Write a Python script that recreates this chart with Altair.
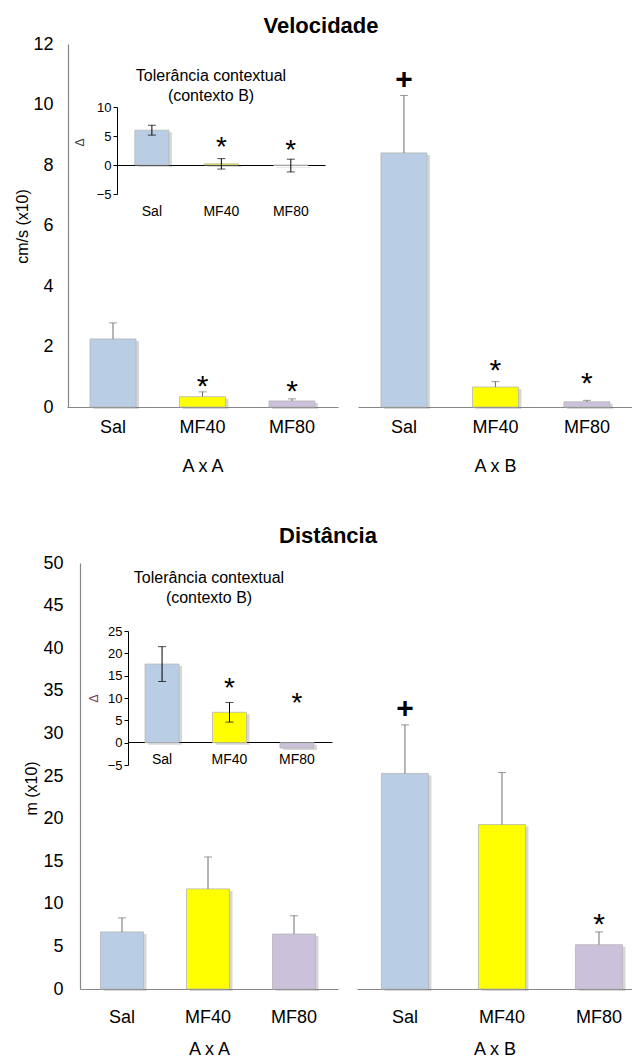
import altair as alt
import pandas as pd

FONT = "Liberation Sans"

categories = ["Sal", "MF40", "MF80"]
bar_colors = ["#b9cde5", "#ffff00", "#ccc1da"]

chart_titles = ["Velocidade", "Distância"]
group_labels = ["A x A", "A x B"]
inset_title = ["Tolerância contextual", "(contexto B)"]
vel_y_title = "cm/s (x10)"
dist_y_title = "m (x10)"
delta_title = "Δ"

vel_ticks = [0, 2, 4, 6, 8, 10, 12]
vel_delta_ticks = [-5, 0, 5, 10]
dist_ticks = [0, 5, 10, 15, 20, 25, 30, 35, 40, 45, 50]
dist_delta_ticks = [-5, 0, 5, 10, 15, 20, 25]

# Velocidade (cm/s x10), mean and SEM
vel_AA_mean = [2.25, 0.34, 0.20]
vel_AA_sem = [0.53, 0.16, 0.07]
vel_AA_sig = ["", "*", "*"]
vel_AA_sig_at = [0.0, 0.86, 0.69]

vel_AB_mean = [8.40, 0.66, 0.17]
vel_AB_sem = [1.90, 0.18, 0.05]
vel_AB_sig = ["+", "*", "*"]
vel_AB_sig_at = [10.81, 1.39, 0.96]

vel_delta_mean = [6.0, 0.2, -0.1]
vel_delta_sem = [0.85, 0.9, 1.1]
vel_delta_sig = ["", "*", "*"]
vel_delta_sig_at = [0.0, 3.97, 3.45]

# Distancia (m x10), mean and SEM
dist_AA_mean = [6.7, 11.75, 6.45]
dist_AA_sem = [1.65, 3.75, 2.15]
dist_AA_sig = ["", "", ""]
dist_AA_sig_at = [0.0, 0.0, 0.0]

dist_AB_mean = [25.3, 19.3, 5.2]
dist_AB_sem = [5.7, 6.1, 1.5]
dist_AB_sig = ["+", "", "*"]
dist_AB_sig_at = [32.9, 0.0, 8.2]

dist_delta_mean = [17.6, 6.8, -1.2]
dist_delta_sem = [3.9, 2.2, 0.0]
dist_delta_sig = ["", "*", "*"]
dist_delta_sig_at = [0.0, 13.2, 9.8]

W, H = 624, 1053


def xband(r0, r1, pi, po, al):
    return alt.Scale(type="band", domain=categories, range=[r0, r1],
                     paddingInner=pi, paddingOuter=po, align=al)


def yscale(d0, d1, r0, r1):
    return alt.Scale(domain=[d0, d1], range=[r0, r1], zero=False, nice=False)


def panel(means, sems, sigs, sig_at, xs, ys, xaxis=None, yaxis=None,
          err_color="#6f6f6f", lower=False, star_size=30, plus_size=30):
    df = pd.DataFrame({
        "cat": categories,
        "fill": bar_colors,
        "mean": means,
        "hi": [m + s for m, s in zip(means, sems)],
        "lo": [m - s for m, s in zip(means, sems)],
        "sem": sems,
        "sig": sigs,
        "sig_at": sig_at,
    })
    base = alt.Chart(df)

    def X(axis=None):
        return alt.X("cat:N", scale=xs, axis=axis)

    def Y(field, axis=None):
        return alt.Y(field, scale=ys, axis=axis)

    layers = []
    layers.append(base.mark_bar(color="#6f6f6f", opacity=0.28, xOffset=3,
                                yOffset=2, y2Offset=2)
                  .encode(x=X(), y=Y("mean:Q")))
    layers.append(base.mark_bar(stroke="#b5b5b5", strokeWidth=0.8)
                  .encode(x=X(xaxis), y=Y("mean:Q", yaxis),
                          color=alt.Color("fill:N", scale=None)))
    err = base.transform_filter(alt.datum.sem > 0)
    layers.append(err.mark_rule(color=err_color, strokeWidth=1)
                  .encode(x=X(), y=Y("lo:Q" if lower else "mean:Q"), y2="hi:Q"))
    layers.append(err.mark_tick(color=err_color, orient="horizontal", size=8, thickness=1)
                  .encode(x=X(), y=Y("hi:Q")))
    if lower:
        layers.append(err.mark_tick(color=err_color, orient="horizontal", size=8, thickness=1)
                      .encode(x=X(), y=Y("lo:Q")))
    if "*" in sigs:
        layers.append(base.transform_filter(alt.datum.sig == "*")
                      .mark_text(font=FONT, fontSize=star_size, color="#000000",
                                 baseline="middle", dy=star_size * 0.2)
                      .encode(x=X(), y=Y("sig_at:Q"), text="sig:N"))
    if "+" in sigs:
        layers.append(base.transform_filter(alt.datum.sig == "+")
                      .mark_text(font=FONT, fontSize=plus_size, fontWeight="bold",
                                 color="#000000", baseline="middle", dy=0)
                      .encode(x=X(), y=Y("sig_at:Q"), text="sig:N"))
    return layers


def text_layer(txt, x, y, size, weight="normal", color="#000000"):
    return (alt.Chart(pd.DataFrame({"t": [txt]}))
            .mark_text(font=FONT, fontSize=size, fontWeight=weight, color=color,
                       align="center", baseline="alphabetic", lineBreak="\n",
                       lineHeight=20)
            .encode(x=alt.value(x), y=alt.value(y), text="t:N"))


MAIN_GRAY = "#868686"


def main_x_axis(title, base_y, pad, title_dy):
    return alt.Axis(orient="bottom", offset=-(H - base_y), ticks=False,
                    domainColor=MAIN_GRAY, domainWidth=1.2,
                    labelFont=FONT, labelFontSize=18, labelColor="#000000",
                    labelPadding=pad, labelAngle=0,
                    title=title, titleFont=FONT, titleFontSize=18,
                    titleFontWeight="normal", titleColor="#000000",
                    titleBaseline="middle", titleY=title_dy)


def main_y_axis(title, values, axis_x, pad, tx, ty):
    return alt.Axis(orient="left", offset=-axis_x, ticks=False, grid=False,
                    values=values, domainColor=MAIN_GRAY, domainWidth=1.2,
                    labelFont=FONT, labelFontSize=18, labelColor="#000000",
                    labelPadding=pad,
                    title=title, titleFont=FONT, titleFontSize=16,
                    titleFontWeight="normal", titleColor="#000000",
                    titleBaseline="middle", titleAlign="center",
                    titleX=tx, titleY=ty)


def inset_x_axis(zero_y, pad):
    return alt.Axis(orient="bottom", offset=-(H - zero_y), ticks=False,
                    domainColor="#000000", domainWidth=1,
                    labelFont=FONT, labelFontSize=14, labelColor="#000000",
                    labelPadding=pad, labelAngle=0, title=None)


def inset_y_axis(values, axis_x, tx, ty, tcolor):
    return alt.Axis(orient="left", offset=-axis_x, ticks=True, tickSize=4,
                    tickColor="#000000", values=values, grid=False,
                    domainColor="#000000", domainWidth=1,
                    labelFont=FONT, labelFontSize=13, labelColor="#000000",
                    labelPadding=2,
                    title=delta_title, titleFont=FONT, titleFontSize=12,
                    titleFontWeight="normal", titleColor=tcolor,
                    titleBaseline="middle", titleAlign="center",
                    titleX=tx, titleY=ty)


# ---------- scales (plot-area pixel ranges) ----------
vel_y = yscale(0, 12, 399, 36)
vel_xAA = xband(59, 330, 0.486, 0.257, 0.5)
vel_xAB = xband(350, 624, 0.497, 0.246, 0.51)
vel_dy = yscale(-5, 10, 186, 99)
vel_dx = xband(109, 317, 0.51, 0.252, 0.51)

dist_y = yscale(0, 50, 981, 555)
dist_xAA = xband(72, 330, 0.5, 0.25, 0.477)
dist_xAB = xband(349, 624, 0.515, 0.175, 0.72)
dist_dy = yscale(-5, 25, 757, 623)
dist_dx = xband(120, 324, 0.496, 0.26, 0.486)

layers = []
# Velocidade
layers += panel(vel_AA_mean, vel_AA_sem, vel_AA_sig, vel_AA_sig_at, vel_xAA, vel_y,
                xaxis=main_x_axis(group_labels[0], 399, 11, 59),
                yaxis=main_y_axis(vel_y_title, vel_ticks, 60, 15, -46, 218))
layers += panel(vel_AB_mean, vel_AB_sem, vel_AB_sig, vel_AB_sig_at, vel_xAB, vel_y,
                xaxis=main_x_axis(group_labels[1], 399, 11, 59))
layers += panel(vel_delta_mean, vel_delta_sem, vel_delta_sig, vel_delta_sig_at,
                vel_dx, vel_dy, xaxis=inset_x_axis(157, 39),
                yaxis=inset_y_axis(vel_delta_ticks, 109, -38, 134, "#404040"),
                err_color="#000000", lower=True, star_size=28)
# Distancia
layers += panel(dist_AA_mean, dist_AA_sem, dist_AA_sig, dist_AA_sig_at, dist_xAA, dist_y,
                xaxis=main_x_axis(group_labels[0], 981, 19, 60),
                yaxis=main_y_axis(dist_y_title, dist_ticks, 72, 17, -49, 780))
layers += panel(dist_AB_mean, dist_AB_sem, dist_AB_sig, dist_AB_sig_at, dist_xAB, dist_y,
                xaxis=main_x_axis(group_labels[1], 981, 19, 60))
layers += panel(dist_delta_mean, dist_delta_sem, dist_delta_sig, dist_delta_sig_at,
                dist_dx, dist_dy, xaxis=inset_x_axis(734, 10),
                yaxis=inset_y_axis(dist_delta_ticks, 120, -35, 690, "#7a3a5a"),
                err_color="#000000", lower=True, star_size=28)

# titles
layers.append(text_layer(chart_titles[0], 313, 25, 22, "bold"))
layers.append(text_layer(chart_titles[1], 320, 535, 22, "bold"))
layers.append(text_layer("\n".join(inset_title), 203, 73, 16))
layers.append(text_layer("\n".join(inset_title), 201, 575, 16))

chart = (alt.layer(*layers)
         .resolve_scale(x="independent", y="independent")
         .properties(width=W, height=H, padding=0,
                     autosize=alt.AutoSizeParams(type="none"))
         .configure_view(stroke=None)
         .configure_axis(grid=False))

chart.save("out.html", embed_options={"renderer": "svg", "actions": False})
